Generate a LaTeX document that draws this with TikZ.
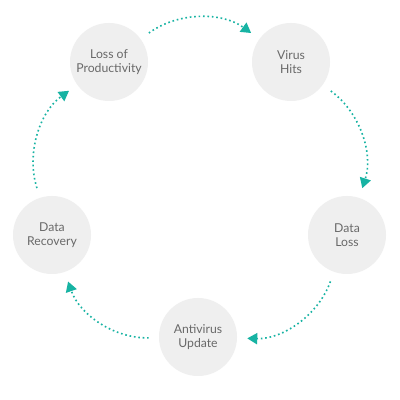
\documentclass[tikz,border=0pt]{standalone}
\usepackage{fontspec}
\setmainfont{Lato}
\usetikzlibrary{arrows.meta}
\definecolor{stage}{RGB}{239,239,239}
\definecolor{cycle}{RGB}{23,179,163}
\definecolor{ink}{RGB}{105,105,105}
\tikzset{
  stagenode/.style={circle,fill=stage,minimum size=1.95cm,inner sep=0pt,align=center,
    text=ink,font=\fontsize{8.7}{9.8}\selectfont},
  flow/.style={-{Triangle[length=0.25cm,width=0.28cm]},draw=cycle,line width=1.15pt,
    dash pattern=on 1.15pt off 2pt,shorten <=0.25cm,shorten >=0.25cm},
}
\begin{document}
\begin{tikzpicture}
\useasboundingbox[fill=white] (0,0) rectangle (10,10);
\node[stagenode] (loss) at (2.725,8.45) {Loss of\\Productivity};
\node[stagenode] (virus) at (7.275,8.45) {Virus\\Hits};
\node[stagenode] (dataloss) at (8.675,4.125) {Data\\Loss};
\node[stagenode] (update) at (4.95,1.575) {Antivirus\\Update};
\node[stagenode] (recovery) at (1.3,4.125) {Data\\Recovery};
\foreach \a/\b in {loss/virus,virus/dataloss,dataloss/update,update/recovery,recovery/loss}{
  \draw[flow] (\a) to[bend left=36] (\b);
}
\end{tikzpicture}
\end{document}
